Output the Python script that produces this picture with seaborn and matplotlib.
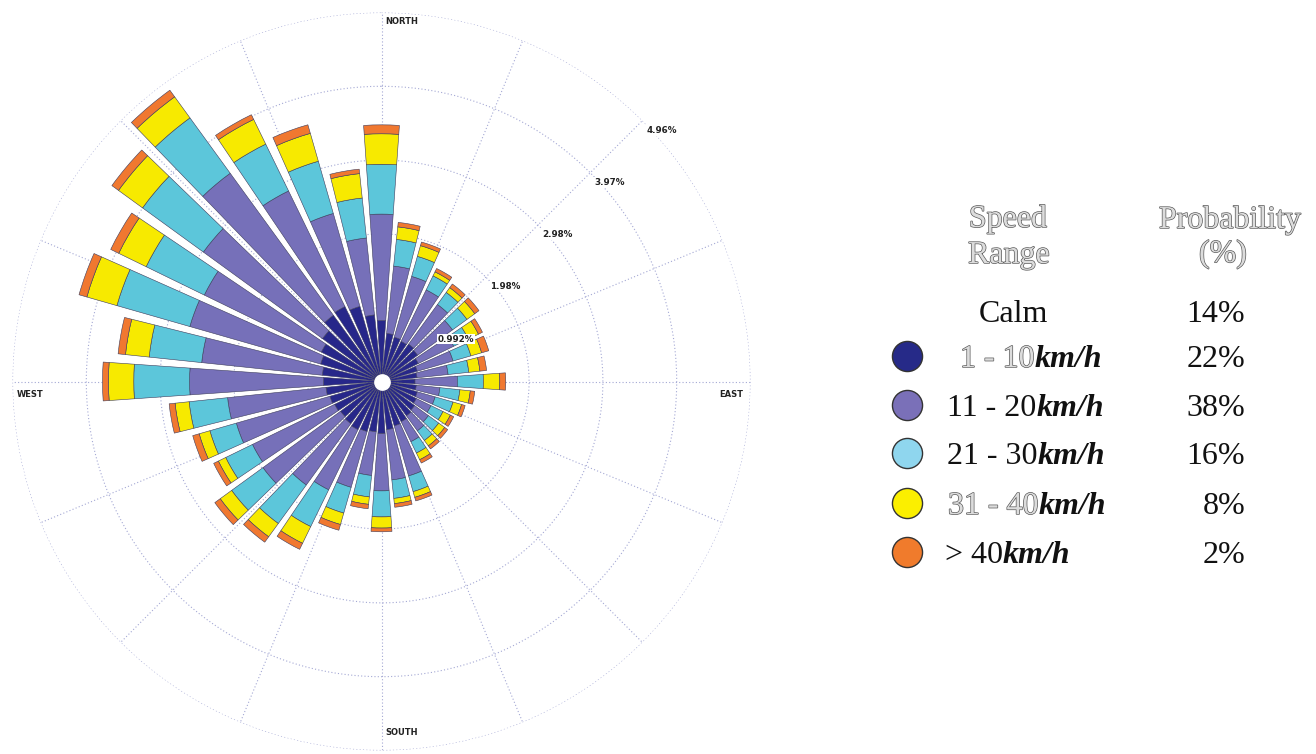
import numpy as np
import pandas as pd
import matplotlib.pyplot as plt
import matplotlib.patheffects as pe
import seaborn as sns

# direcciones del viento (grados desde el norte, sentido horario)
direcciones = list(range(0, 360, 10))

# frecuencia (%) de cada rango de velocidad por direccion
v_1_10 = [0.82, 0.65, 0.62, 0.60, 0.62, 0.60, 0.55, 0.50, 0.48, 0.45, 0.47, 0.50,
          0.52, 0.55, 0.57, 0.60, 0.62, 0.65, 0.70, 0.68, 0.70, 0.72, 0.70, 0.68,
          0.70, 0.72, 0.75, 0.78, 0.80, 0.85, 0.90, 0.98, 1.10, 1.12, 1.05, 0.90]
v_11_20 = [1.43, 0.91, 0.85, 0.77, 0.66, 0.58, 0.53, 0.50, 0.42, 0.57, 0.32, 0.25,
           0.22, 0.23, 0.25, 0.30, 0.70, 0.68, 0.77, 0.59, 0.78, 0.90, 1.02, 1.29,
           1.23, 1.31, 1.33, 1.80, 1.63, 1.83, 1.75, 1.98, 2.36, 1.73, 1.30, 1.04]
v_21_30 = [0.67, 0.36, 0.28, 0.21, 0.20, 0.24, 0.22, 0.25, 0.28, 0.35, 0.27, 0.25,
           0.18, 0.17, 0.16, 0.17, 0.22, 0.25, 0.35, 0.29, 0.36, 0.55, 0.64, 0.52,
           0.40, 0.37, 0.52, 0.75, 0.71, 1.02, 0.87, 1.01, 0.92, 0.70, 0.73, 0.54]
v_31_40 = [0.41, 0.17, 0.15, 0.06, 0.08, 0.13, 0.15, 0.15, 0.15, 0.22, 0.14, 0.12,
           0.11, 0.10, 0.09, 0.10, 0.08, 0.07, 0.15, 0.10, 0.16, 0.25, 0.22, 0.19,
           0.11, 0.15, 0.19, 0.34, 0.32, 0.42, 0.41, 0.40, 0.35, 0.37, 0.39, 0.33]
v_40 = [0.12, 0.06, 0.05, 0.05, 0.06, 0.07, 0.06, 0.10, 0.09, 0.08, 0.06, 0.05,
        0.05, 0.05, 0.05, 0.05, 0.05, 0.05, 0.05, 0.06, 0.08, 0.09, 0.09, 0.09,
        0.07, 0.09, 0.08, 0.08, 0.10, 0.11, 0.12, 0.11, 0.11, 0.07, 0.12, 0.06]

rangos = ['1 - 10', '11 - 20', '21 - 30', '31 - 40', '> 40']
probabilidad = ['22%', '38%', '16%', '8%', '2%']
calma = '14%'

paso = 0.992
etiquetas_anillos = ['0.992%', '1.98%', '2.98%', '3.97%', '4.96%']
puntos_cardinales = ['NORTH', 'EAST', 'SOUTH', 'WEST']

colores = ['#27278a', '#7670b9', '#5cc6da', '#f7ea00', '#f07830']
colores_leyenda = ['#262a88', '#7a70b8', '#8fd6ee', '#fbef00', '#f07b2c']

df = pd.DataFrame({'dir': direcciones, '1 - 10': v_1_10, '11 - 20': v_11_20,
                   '21 - 30': v_21_30, '31 - 40': v_31_40, '> 40': v_40})

sns.set_style('white')
plt.rcParams['font.family'] = ['DejaVu Sans']

fig = plt.figure(figsize=(13.16, 7.54), dpi=100)
ax = fig.add_axes([12.5 / 1316, 3.5 / 754, 738 / 1316, 738 / 754], projection='polar')
ax.set_theta_zero_location('N')
ax.set_theta_direction(-1)

theta = np.deg2rad(df['dir'].values)
base = np.zeros(len(df))
for col, c in zip(rangos, colores):
    ax.bar(theta, df[col].values, width=np.deg2rad(8), bottom=base, color=c,
           edgecolor='#3c3c5c', linewidth=0.4, zorder=3)
    base += df[col].values

rmax = paso * 5
ax.set_ylim(0, rmax)
ax.grid(False)
ax.set_xticks([])
ax.set_yticks([])
ax.spines['polar'].set_visible(False)

# anillos y radios punteados
t = np.linspace(0, 2 * np.pi, 500)
for k in range(1, 6):
    ax.plot(t, np.full_like(t, paso * k), ls=(0, (1, 2)), color='#a4a8d4', lw=0.8, zorder=1)
for a in np.arange(0, 360, 22.5):
    ax.plot([np.deg2rad(a)] * 2, [0, rmax], ls=(0, (1, 2)), color='#a4a8d4', lw=0.8, zorder=1)

ax.plot(0, 0, 'o', ms=11, color='white', zorder=5)

for k, lab in enumerate(etiquetas_anillos):
    ax.annotate(lab, xy=(np.pi / 4, paso * (k + 1)), xytext=(2.8, -7), textcoords='offset points',
                ha='left', va='center', fontsize=6.3, fontweight='bold', color='#222222', zorder=6,
                bbox=dict(facecolor='white', edgecolor='none', pad=0.6))

pos = {'NORTH': (0, (2.5, -3.5), 'left', 'top'),
       'EAST': (np.pi / 2, (-5, -6), 'right', 'top'),
       'SOUTH': (np.pi, (3, 9.5), 'left', 'bottom'),
       'WEST': (3 * np.pi / 2, (3, -6), 'left', 'top')}
for lab in puntos_cardinales:
    a, off, ha, va = pos[lab]
    ax.annotate(lab, xy=(a, rmax), xytext=off, textcoords='offset points', ha=ha, va=va,
                fontsize=6, fontweight='bold', color='#222222')

# leyenda a la derecha (coordenadas en pixeles)
leg = fig.add_axes([0, 0, 1, 1])
leg.set_xlim(0, 1316)
leg.set_ylim(754, 0)
leg.axis('off')
leg.patch.set_alpha(0)

serif = 'Liberation Serif'
hueco = [pe.withStroke(linewidth=1.0, foreground='#5a5a5a')]
kw = dict(family=serif, fontsize=23, va='baseline')

leg.text(1008, 227, 'Speed', ha='center', color='#dcdcdc', path_effects=hueco, **kw)
leg.text(1009, 263, 'Range', ha='center', color='#dcdcdc', path_effects=hueco, **kw)
leg.text(1230, 228, 'Probability', ha='center', color='#dcdcdc', path_effects=hueco, **kw)
leg.text(1223, 262, '(%)', ha='center', color='#dcdcdc', path_effects=hueco, **kw)

leg.text(1013, 322, 'Calm', ha='center', color='#111111', **kw)
leg.text(1245, 322, calma, ha='right', color='#111111', **kw)

ys = [356, 405, 453, 503, 552]
xs = [960, 947, 947, 948, 945]
for i, (r, p) in enumerate(zip(rangos, probabilidad)):
    leg.scatter(907, ys[i], s=470, color=colores_leyenda[i], edgecolor='#333333', linewidth=1)
    if i in (0, 3):
        t1 = leg.text(xs[i], ys[i] + 11, r, ha='left', color='#dcdcdc', path_effects=hueco, **kw)
    else:
        t1 = leg.text(xs[i], ys[i] + 11, r, ha='left', color='#111111', **kw)
    leg.annotate('km/h', xy=(1, 0), xycoords=t1, ha='left', va='bottom', family=serif,
                 fontsize=23, fontstyle='italic', fontweight='bold', color='#111111')
    leg.text(1245, ys[i] + 11, p, ha='right', color='#111111', **kw)

fig.savefig('out.png', dpi=100)
